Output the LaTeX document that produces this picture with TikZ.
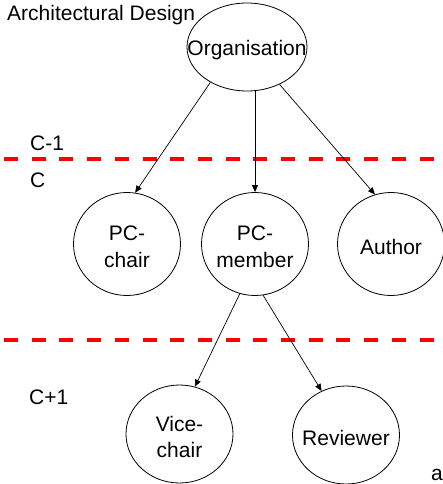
\documentclass[tikz,border=0pt]{standalone}
\usepackage{fontspec}
\setmainfont{Liberation Sans}
\usetikzlibrary{shapes.geometric,arrows.meta}
\begin{document}
\begin{tikzpicture}[x=1pt,y=-1pt,
  txt/.style={font=\fontsize{21}{26.5}\selectfont, inner sep=0pt},
  oval/.style={ellipse, draw, line width=0.8pt, inner sep=0pt, minimum width=107pt, minimum height=103pt},
  lbl/.style={txt, align=center, yshift=-3pt},
  conn/.style={line width=0.7pt, -{Triangle[length=7pt,width=6pt]}},
  sep/.style={red, line width=4.5pt, dash pattern=on 14pt off 13.7pt}]
\useasboundingbox (0,0) rectangle (442,484);
% levels
\coordinate (l1a) at (4,159);
\coordinate (l1b) at (442,159);
\coordinate (l2a) at (4,340);
\coordinate (l2b) at (442,340);
\draw[sep] (l1a) -- (l1b);
\draw[sep] (l2a) -- (l2b);
% texts
\node[txt, anchor=base west] (title) at (7,20.5) {Architectural Design};
\node[txt, anchor=base west] (cm1) at (30,150) {C-1};
\node[txt, anchor=base west] (c0) at (30,187) {C};
\node[txt, anchor=base west] (cp1) at (29,404) {C+1};
\node[txt, anchor=base west] (a) at (431,480) {a};
% ovals
\node[oval, minimum width=120pt, minimum height=88pt, label={[lbl]center:Organisation}] (org) at (247,47) {};
\node[oval, label={[lbl]center:PC-\\chair}] (pcc) at (127,244) {};
\node[oval, label={[lbl]center:PC-\\member}] (pcm) at (255,244) {};
\node[oval, label={[lbl]center:Author}] (aut) at (391,244) {};
\node[oval, minimum height=98pt, label={[lbl]center:Vice-\\chair}] (vc) at (179.5,434) {};
\node[oval, minimum height=98pt, label={[lbl]center:Reviewer}] (rev) at (346,435) {};
% connectors
\draw[conn] (org.-136) -- (pcc.81);
\draw[conn] (pcm.north |- org.south) -- (pcm.north);
\draw[conn] (org.-49) -- (aut.108);
\draw[conn] (pcm.-107) -- (vc.72);
\draw[conn] (pcm.-81) -- (rev.119);
\end{tikzpicture}
\end{document}
